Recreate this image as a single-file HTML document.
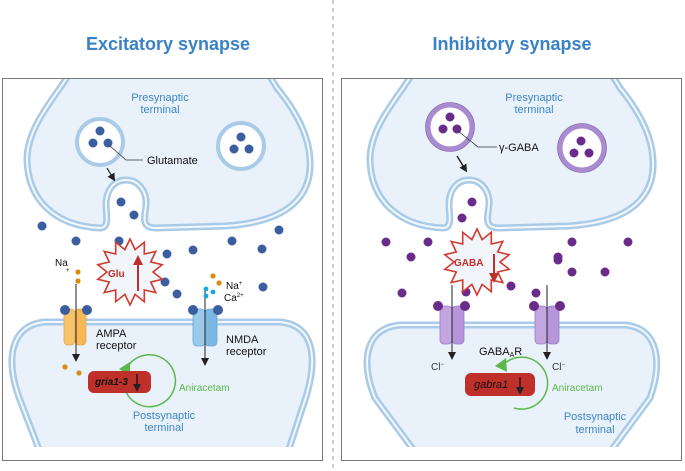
<!DOCTYPE html>
<html><head><meta charset="utf-8"><style>
html,body{margin:0;padding:0;background:#fff;}
svg{display:block;font-family:"Liberation Sans",Arial,sans-serif;}
</style></head><body>
<svg width="685" height="471" viewBox="0 0 685 471" xmlns="http://www.w3.org/2000/svg">
<defs>
<clipPath id="cl"><rect x="3" y="79" width="319" height="368"/></clipPath>
<clipPath id="cr"><rect x="342" y="79" width="339" height="368"/></clipPath>
<polygon id="star" points="0,-33 5.1,-22.4 14.3,-29.7 14.3,-18 25.8,-20.6 20.7,-10 32.2,-7.3 23,0 32.2,7.3 20.7,10 25.8,20.6 14.3,18 14.3,29.7 5.1,22.4 0,33 -5.1,22.4 -14.3,29.7 -14.3,18 -25.8,20.6 -20.7,10 -32.2,7.3 -23,0 -32.2,-7.3 -20.7,-10 -25.8,-20.6 -14.3,-18 -14.3,-29.7 -5.1,-22.4" fill="#f2f6fb" stroke="#d23a2e" stroke-width="1.6"/>
<marker id="ah" markerWidth="8" markerHeight="8" refX="4" refY="4" orient="auto" markerUnits="userSpaceOnUse"><path d="M0,0 L8,4 L0,8 Z" fill="#222"/></marker>
<marker id="ahr" markerWidth="10" markerHeight="10" refX="5" refY="5" orient="auto" markerUnits="userSpaceOnUse"><path d="M0,0 L10,5 L0,10 Z" fill="#c0302a"/></marker>
<path id="preP" d="M72,70 L60,88 C42,113 27,135 27,160 C28,200 55,226 100,228 C110,228 106,214 106,205 C106,190 114,180 126,180 C139,180 147,192 146,205 C145,216 140,228 156,228 L225,226 C290,222 312,195 310,160 C309,135 295,110 277,88 L266,70 Z"/>
<path id="postL" d="M40,452 L20,400 C5,360 10,325 45,322 L280,322 C315,325 318,360 305,400 L288,452"/>
<path id="postR" d="M415,452 L375,398 C360,362 365,328 400,325 L625,325 C660,328 662,365 650,398 L610,452"/>
</defs>

<line x1="333" y1="0" x2="333" y2="471" stroke="#999" stroke-width="1" stroke-dasharray="4,4"/>
<text x="168" y="50" text-anchor="middle" font-size="18" font-weight="bold" fill="#3a82c4">Excitatory synapse</text>
<text x="512" y="50" text-anchor="middle" font-size="18" font-weight="bold" fill="#3a82c4">Inhibitory synapse</text>

<!-- LEFT PANEL -->
<g clip-path="url(#cl)">
<use href="#preP" fill="#e9f2fb" stroke="#a9cbe8" stroke-width="7"/>
<use href="#preP" fill="none" stroke="#f4f8fd" stroke-width="2"/>
<use href="#postL" fill="#e9f2fb" stroke="#a9cbe8" stroke-width="7"/>
<use href="#postL" fill="none" stroke="#f4f8fd" stroke-width="2"/>
</g>
<rect x="2.5" y="78.5" width="320" height="382" fill="none" stroke="#777" stroke-width="1"/>
<text x="160" y="101" text-anchor="middle" font-size="11" fill="#3f86c4">Presynaptic</text>
<text x="160" y="113" text-anchor="middle" font-size="11" fill="#3f86c4">terminal</text>
<circle cx="100" cy="142" r="23" fill="#fff" stroke="#a9cbe8" stroke-width="4"/>
<circle cx="241" cy="146" r="23" fill="#fff" stroke="#a9cbe8" stroke-width="4"/>
<g fill="#3b5ea0">
<circle cx="100" cy="131" r="4.5"/><circle cx="93" cy="143" r="4.5"/><circle cx="108" cy="143" r="4.5"/>
<circle cx="241" cy="137" r="4.5"/><circle cx="234" cy="149" r="4.5"/><circle cx="249" cy="149" r="4.5"/>
<circle cx="121" cy="202" r="4.5"/><circle cx="134" cy="215" r="4.5"/>
<circle cx="42" cy="226" r="4.5"/><circle cx="76" cy="241" r="4.5"/><circle cx="119" cy="241" r="4.5"/>
<circle cx="167" cy="254" r="4.5"/><circle cx="193" cy="250" r="4.5"/><circle cx="232" cy="241" r="4.5"/>
<circle cx="262" cy="249" r="4.5"/><circle cx="279" cy="230" r="4.5"/>
<circle cx="177" cy="294" r="4.5"/><circle cx="263" cy="287" r="4.5"/><circle cx="165" cy="282" r="4.5"/>
</g>
<path d="M110,146 L126,160 L143,160" fill="none" stroke="#333" stroke-width="0.8"/>
<text x="147" y="164" font-size="11" fill="#111">Glutamate</text>
<line x1="107" y1="168" x2="113" y2="178" stroke="#222" stroke-width="1.2" marker-end="url(#ah)"/>

<use href="#star" x="130" y="272"/>
<text x="108" y="277" font-size="10" font-weight="bold" fill="#c0302a">Glu</text>
<line x1="138" y1="291" x2="138" y2="260" stroke="#c0302a" stroke-width="2" marker-end="url(#ahr)"/>

<!-- AMPA -->
<rect x="64" y="309" width="11" height="36" rx="4" fill="#f7c46e" stroke="#e6a545" stroke-width="0.8"/>
<rect x="75" y="309" width="11" height="36" rx="4" fill="#f5b757" stroke="#e6a545" stroke-width="0.8"/>
<circle cx="65" cy="310" r="5" fill="#3b5ea0"/><circle cx="87" cy="310" r="5" fill="#3b5ea0"/>
<line x1="76" y1="284" x2="76" y2="358" stroke="#222" stroke-width="1" marker-end="url(#ah)"/>
<text x="55" y="266" font-size="10" fill="#111">Na</text><text x="66" y="272" font-size="6" fill="#111">+</text>
<g fill="#d98c10"><circle cx="78" cy="272" r="2.6"/><circle cx="78" cy="281" r="2.6"/><circle cx="65" cy="367" r="2.6"/><circle cx="79" cy="373" r="2.6"/></g>
<text x="96" y="337" font-size="11" fill="#111">AMPA</text>
<text x="96" y="349" font-size="11" fill="#111">receptor</text>
<!-- NMDA -->
<rect x="193" y="309" width="12" height="37" rx="4" fill="#9ccbea" stroke="#6aa6d4" stroke-width="0.8"/>
<rect x="205" y="309" width="12" height="37" rx="4" fill="#7cb8e2" stroke="#6aa6d4" stroke-width="0.8"/>
<circle cx="193" cy="310" r="5" fill="#3b5ea0"/><circle cx="218" cy="310" r="5" fill="#3b5ea0"/>
<line x1="205" y1="288" x2="205" y2="362" stroke="#222" stroke-width="1" marker-end="url(#ah)"/>
<g fill="#d98c10"><circle cx="213" cy="276" r="2.6"/><circle cx="219" cy="283" r="2.6"/></g>
<g fill="#1aa6dc"><circle cx="206" cy="289" r="2.4"/><circle cx="213" cy="292" r="2.4"/><circle cx="206" cy="296" r="2.4"/></g>
<text x="226" y="289" font-size="10" fill="#111">Na<tspan font-size="6" dy="-4">+</tspan></text>
<text x="224" y="301" font-size="10" fill="#111">Ca<tspan font-size="6" dy="-4">2+</tspan></text>
<text x="226" y="343" font-size="11" fill="#111">NMDA</text>
<text x="226" y="355" font-size="11" fill="#111">receptor</text>
<!-- gene -->
<path d="M126,392 A26,26 0 1 0 128,366" fill="none" stroke="#5cb84a" stroke-width="1.5"/>
<path d="M119,369 L130,362 L130,376 Z" fill="#5cb84a"/>
<rect x="88" y="371" width="63" height="22" rx="6" fill="#c0302a"/>
<text x="95" y="385" font-size="10" font-weight="bold" font-style="italic" fill="#111">gria1-3</text>
<line x1="137" y1="374" x2="137" y2="388" stroke="#111" stroke-width="1.3" marker-end="url(#ah)"/>
<text x="179" y="391" font-size="10" fill="#5cb84a">Aniracetam</text>
<text x="164" y="419" text-anchor="middle" font-size="11" fill="#3f86c4">Postsynaptic</text>
<text x="164" y="431" text-anchor="middle" font-size="11" fill="#3f86c4">terminal</text>

<!-- RIGHT PANEL -->
<g clip-path="url(#cr)">
<g transform="translate(343,0)">
<use href="#preP" fill="#e9f2fb" stroke="#a9cbe8" stroke-width="7"/>
<use href="#preP" fill="none" stroke="#f4f8fd" stroke-width="2"/>
</g>
<use href="#postR" fill="#e9f2fb" stroke="#a9cbe8" stroke-width="7"/>
<use href="#postR" fill="none" stroke="#f4f8fd" stroke-width="2"/>
</g>
<rect x="341.5" y="78.5" width="340" height="382" fill="none" stroke="#777" stroke-width="1"/>
<text x="534" y="101" text-anchor="middle" font-size="11" fill="#3f86c4">Presynaptic</text>
<text x="534" y="113" text-anchor="middle" font-size="11" fill="#3f86c4">terminal</text>
<circle cx="450" cy="127" r="22" fill="#fff" stroke="#a98bcf" stroke-width="5"/>
<circle cx="450" cy="127" r="24.5" fill="none" stroke="#7c5aa8" stroke-width="0.6"/>
<circle cx="582" cy="148" r="22" fill="#fff" stroke="#a98bcf" stroke-width="5"/>
<circle cx="582" cy="148" r="24.5" fill="none" stroke="#7c5aa8" stroke-width="0.6"/>
<g fill="#6a2c8a">
<circle cx="450" cy="117" r="4.5"/><circle cx="443" cy="129" r="4.5"/><circle cx="457" cy="129" r="4.5"/>
<circle cx="581" cy="141" r="4.5"/><circle cx="574" cy="153" r="4.5"/><circle cx="589" cy="153" r="4.5"/>
<circle cx="472" cy="202" r="4.5"/><circle cx="462" cy="218" r="4.5"/>
<circle cx="386" cy="242" r="4.5"/><circle cx="428" cy="242" r="4.5"/><circle cx="411" cy="257" r="4.5"/>
<circle cx="572" cy="242" r="4.5"/><circle cx="628" cy="242" r="4.5"/><circle cx="558" cy="257" r="4.5"/>
<circle cx="572" cy="272" r="4.5"/><circle cx="402" cy="293" r="4.5"/><circle cx="466" cy="292" r="4.5"/>
<circle cx="511" cy="286" r="4.5"/><circle cx="605" cy="272" r="4.5"/><circle cx="536" cy="293" r="4.5"/>
<circle cx="558" cy="260" r="4.5"/>
</g>
<path d="M458,131 L478,147 L497,147" fill="none" stroke="#333" stroke-width="0.8"/>
<text x="499" y="151" font-size="11" fill="#111">γ-GABA</text>
<line x1="457" y1="156" x2="465" y2="169" stroke="#222" stroke-width="1.5" marker-end="url(#ah)"/>

<use href="#star" x="477" y="262"/>
<text x="454" y="266" font-size="10" font-weight="bold" fill="#c0302a">GABA</text>
<line x1="494" y1="254" x2="494" y2="278" stroke="#c0302a" stroke-width="2" marker-end="url(#ahr)"/>

<g>
<rect x="440" y="306" width="12" height="38" rx="4" fill="#c3a6e0" stroke="#9d7bc7" stroke-width="0.8"/>
<rect x="452" y="306" width="12" height="38" rx="4" fill="#b596da" stroke="#9d7bc7" stroke-width="0.8"/>
<circle cx="438" cy="306" r="5" fill="#6a2c8a"/><circle cx="465" cy="306" r="5" fill="#6a2c8a"/>
<line x1="452" y1="285" x2="452" y2="356" stroke="#222" stroke-width="1" marker-end="url(#ah)"/>
<rect x="535" y="306" width="12" height="38" rx="4" fill="#c3a6e0" stroke="#9d7bc7" stroke-width="0.8"/>
<rect x="547" y="306" width="12" height="38" rx="4" fill="#b596da" stroke="#9d7bc7" stroke-width="0.8"/>
<circle cx="534" cy="306" r="5" fill="#6a2c8a"/><circle cx="560" cy="306" r="5" fill="#6a2c8a"/>
<line x1="547" y1="285" x2="547" y2="356" stroke="#222" stroke-width="1" marker-end="url(#ah)"/>
</g>
<text x="431" y="370" font-size="10" fill="#333">Cl<tspan font-size="6" dy="-4">−</tspan></text>
<text x="552" y="370" font-size="10" fill="#333">Cl<tspan font-size="6" dy="-4">−</tspan></text>
<text x="479" y="355" font-size="11" fill="#111">GABA<tspan font-size="7" dy="2">A</tspan><tspan dy="-2">R</tspan></text>
<path d="M514,408 A26,26 0 1 0 504,364" fill="none" stroke="#5cb84a" stroke-width="1.5"/>
<path d="M495,366 L506,358 L507,372 Z" fill="#5cb84a"/>
<rect x="465" y="373" width="70" height="23" rx="6" fill="#c0302a"/>
<text x="474" y="388" font-size="11" font-style="italic" fill="#111">gabra1</text>
<line x1="520" y1="377" x2="520" y2="391" stroke="#111" stroke-width="1.3" marker-end="url(#ah)"/>
<text x="552" y="391" font-size="10" fill="#5cb84a">Aniracetam</text>
<text x="595" y="420" text-anchor="middle" font-size="11" fill="#3f86c4">Postsynaptic</text>
<text x="595" y="433" text-anchor="middle" font-size="11" fill="#3f86c4">terminal</text>
</svg>
</body></html>
